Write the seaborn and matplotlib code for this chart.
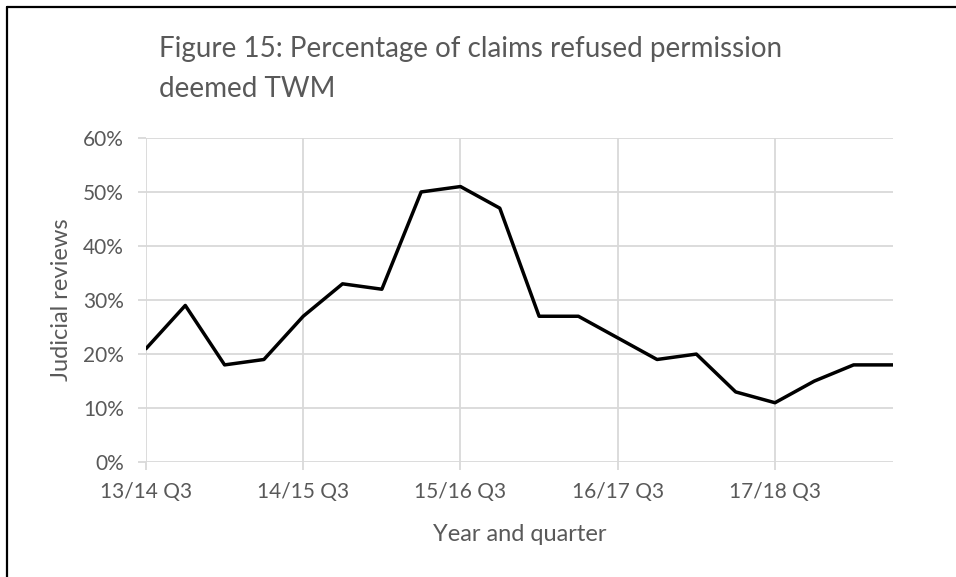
import matplotlib
matplotlib.use("Agg")
import matplotlib.pyplot as plt
import seaborn as sns
import pandas as pd
from matplotlib.lines import Line2D
from matplotlib.ticker import FuncFormatter

# Quarterly share of claims refused permission that were deemed TWM (%)
quarter_idx = list(range(20))
twm_pct = [21, 29, 18, 19, 27, 33, 32, 50, 51, 47,
           27, 27, 23, 19, 20, 13, 11, 15, 18, 18]
tick_pos = [0, 4, 8, 12, 16]
tick_labels = ['13/14 Q3', '14/15 Q3', '15/16 Q3', '16/17 Q3', '17/18 Q3']

df = pd.DataFrame({'q': quarter_idx, 'pct': twm_pct})

sns.set_style('white')
plt.rcParams['font.family'] = ['Lato', 'DejaVu Sans']
grey = '#595959'

fig = plt.figure(figsize=(9.56, 5.77), dpi=100)
ax = fig.add_axes([0.1527, 0.199, 0.7813, 0.562])

sns.lineplot(x='q', y='pct', data=df, ax=ax, color='black', linewidth=2.5)

ax.set_xlim(0, 19)
ax.set_ylim(0, 60)
ax.set_xticks(tick_pos)
ax.set_xticklabels(tick_labels)
ax.set_yticks(range(0, 61, 10))
ax.yaxis.set_major_formatter(FuncFormatter(lambda v, p: f'{int(v)}%'))

ax.grid(True, color='#d9d9d9', linewidth=1.3)
ax.set_axisbelow(True)
for s in ax.spines.values():
    s.set_visible(False)
ax.tick_params(axis='both', bottom=True, left=True, colors='#d9d9d9',
               labelcolor=grey, labelsize=15, length=6, width=1.3)
ax.tick_params(axis='x', pad=8)
ax.tick_params(axis='y', pad=10)

ax.set_xlabel('Year and quarter', fontsize=17, color=grey, labelpad=16)
ax.set_ylabel('Judicial reviews', fontsize=17, color=grey, labelpad=8)

fig.text(159 / 956, 1 - 57 / 577, 'Figure 15: Percentage of claims refused permission',
         fontsize=20, color=grey, va='baseline', ha='left')
fig.text(159 / 956, 1 - 97 / 577, 'deemed TWM',
         fontsize=20, color=grey, va='baseline', ha='left')

# frame along top and left edges
fig.add_artist(Line2D([7 / 956, 7 / 956], [0, 1 - 7 / 577], color='black', linewidth=1.6,
                      transform=fig.transFigure))
fig.add_artist(Line2D([7 / 956, 1], [1 - 7 / 577, 1 - 7 / 577], color='black', linewidth=1.6,
                      transform=fig.transFigure))

fig.savefig('out.png', dpi=100)
